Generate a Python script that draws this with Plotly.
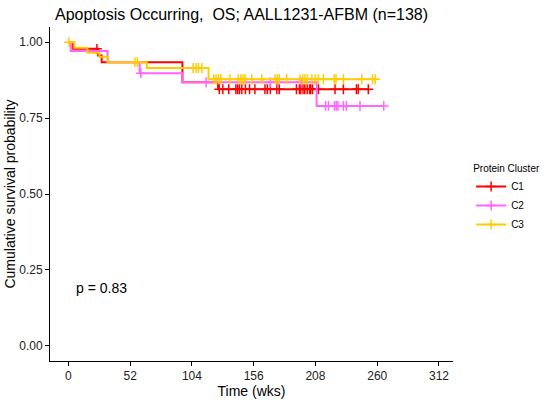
import plotly.graph_objects as go
import numpy as np

# Kaplan-Meier step data (time in weeks, survival)
c1_times = [0, 4, 25, 28, 96, 126, 253]
c1_surv = [1.0, 0.978, 0.956, 0.934, 0.868, 0.845, 0.845]
c1_cens = [24, 127, 130, 135, 141, 142.5, 144, 146, 149, 152.5, 157, 165.5, 167.5, 170,
           175.5, 177.5, 192, 194.5, 195.5, 197.5, 199, 201, 203, 204, 205.5, 210.5,
           224.5, 231.5, 242.5, 244, 252.5]

c2_times = [0, 2, 33, 60, 96, 209, 266]
c2_surv = [1.0, 0.971, 0.934, 0.898, 0.868, 0.790, 0.790]
c2_cens = [61, 116, 170, 176, 196, 216.5, 219, 224, 225.5, 227, 231.5, 234, 245.5, 265.5]

c3_times = [0, 5, 16, 26, 33, 66, 118, 258]
c3_surv = [1.0, 0.982, 0.965, 0.952, 0.934, 0.915, 0.878, 0.878]
c3_cens = [0.5, 56, 58, 105, 107.5, 109.5, 112.3, 122.3, 124.3, 126.3, 128.3, 136, 143,
           145, 147, 148.7, 154.4, 162.8, 174, 176, 177.6, 183.8, 195, 197.3, 199.2,
           201.2, 205, 207.7, 210.5, 214.7, 223.7, 225.3, 231.5, 247, 256, 258.3]

names = ["C1", "C2", "C3"]
colors = ["#FF0000", "#FF66FF", "#FFCC00"]
x_ticks = [0, 52, 104, 156, 208, 260, 312]
y_ticks = [0, 0.25, 0.5, 0.75, 1.0]
p_text = "p = 0.83"


def surv_at(times, surv, t):
    idx = np.searchsorted(np.array(times), t, side="right") - 1
    return surv[max(idx, 0)]


fig = go.Figure()
series = [(c1_times, c1_surv, c1_cens), (c2_times, c2_surv, c2_cens), (c3_times, c3_surv, c3_cens)]
for (tt, ss, cc), nm, col in zip(series, names, colors):
    fig.add_trace(go.Scatter(
        x=tt, y=ss, mode="lines", line=dict(color=col, width=2, shape="hv"),
        name=nm, legendgroup=nm, showlegend=False))
    cy = [surv_at(tt, ss, t) for t in cc]
    fig.add_trace(go.Scatter(
        x=cc, y=cy, mode="markers",
        marker=dict(symbol="cross-thin", size=7, line=dict(color=col, width=1.5), color=col),
        name=nm, legendgroup=nm, showlegend=False))
    # legend entry
    fig.add_trace(go.Scatter(
        x=[None], y=[None], mode="lines+markers",
        line=dict(color=col, width=2),
        marker=dict(symbol="cross-thin", size=7, line=dict(color=col, width=1.5), color=col),
        name=nm, legendgroup=nm, showlegend=True))

fig.add_annotation(x=4.5, y=0.19, text=p_text, showarrow=False, xanchor="left", yanchor="middle",
                   font=dict(size=14, color="black", family="Liberation Sans, Arial"))

fig.update_layout(
    width=550, height=400,
    margin=dict(l=50, r=97, t=27, b=39, autoexpand=False),
    paper_bgcolor="white", plot_bgcolor="white",
    font=dict(family="Liberation Sans, Arial", color="black"),
    title=dict(text="Apoptosis Occurring,\u00a0 OS; AALL1231-AFBM (n=138)",
               x=55 / 550, xanchor="left", y=1 - 14 / 400, yanchor="middle",
               font=dict(size=16, color="black")),
    legend=dict(title=dict(text="Protein Cluster", font=dict(size=10)),
                font=dict(size=10), x=1.045, xanchor="left", y=0.485, yanchor="middle",
                bgcolor="rgba(0,0,0,0)", tracegroupgap=0, itemwidth=30),
    xaxis=dict(range=[-15.5, 323.8], tickvals=x_ticks, ticktext=[str(v) for v in x_ticks],
               automargin=False,
               showgrid=False, zeroline=False, showline=True, linecolor="black", linewidth=1,
               ticks="outside", ticklen=4, tickcolor="black", tickfont=dict(size=12, color="#222"),
               title=dict(text="Time (wks)", font=dict(size=14), standoff=0)),
    yaxis=dict(range=[-0.05, 1.05], tickvals=y_ticks, ticktext=["0.00", "0.25", "0.50", "0.75", "1.00"],
               automargin=False,
               showgrid=False, zeroline=False, showline=True, linecolor="black", linewidth=1,
               ticks="outside", ticklen=4, tickcolor="black", tickfont=dict(size=12, color="#222"),
               title=dict(text="Cumulative survival probability", font=dict(size=14), standoff=0)),
)

fig.write_html("out.html", config={"displayModeBar": False},
               post_script="document.body.style.margin='0';document.body.style.padding='0';")
